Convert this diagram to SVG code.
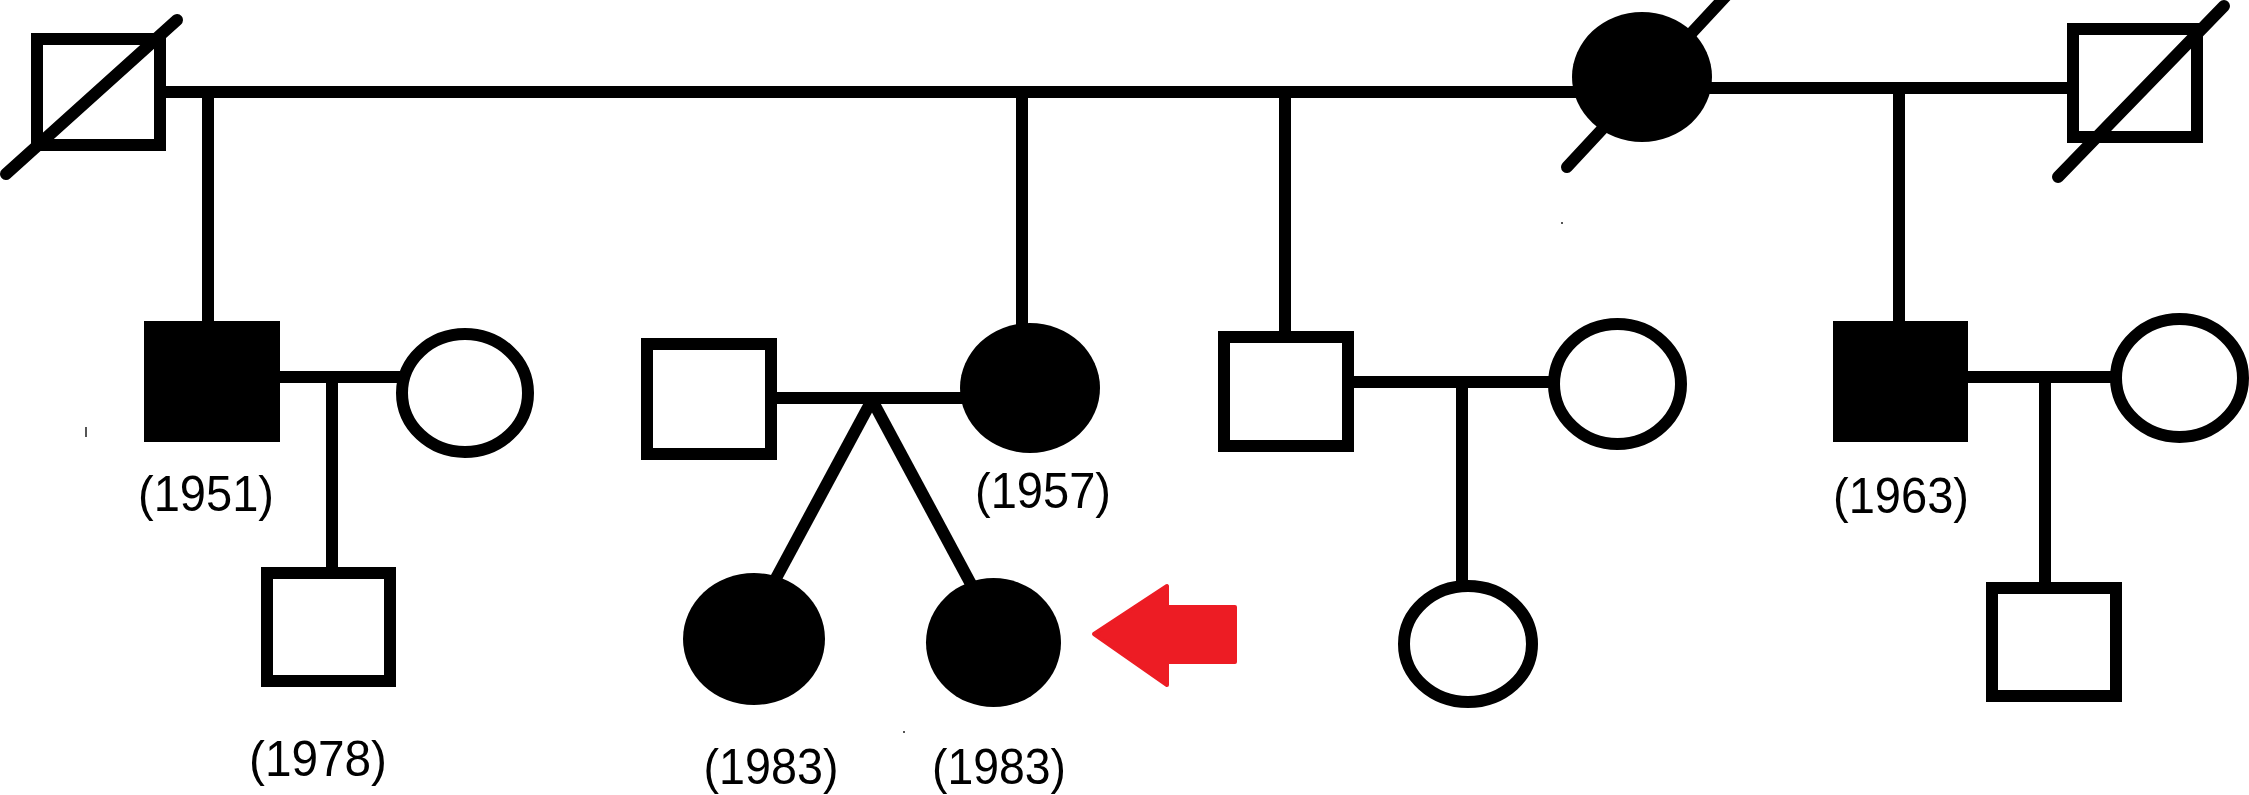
<svg xmlns="http://www.w3.org/2000/svg" width="2249" height="795" viewBox="0 0 2249 795">
  <style>
    .open { fill: #ffffff; stroke: #000000; stroke-width: 12; }
    .filled { fill: #000000; stroke: none; }
    .slash { stroke: #000000; stroke-width: 12; stroke-linecap: round; fill: none; }
    .link { stroke: #000000; stroke-width: 12; fill: none; }
    .label { font-family: "Liberation Sans", Arial, sans-serif; font-size: 50px; fill: #000000; text-anchor: middle; }
    .speck { fill: #555555; }
  </style>
  <rect x="0" y="0" width="2249" height="795" fill="#ffffff"/>

  <g id="connectors">
    <line class="link" x1="166" y1="92" x2="1600" y2="92"/>
    <line class="link" x1="1690" y1="88" x2="2067" y2="88"/>
    <line class="link" x1="208" y1="92" x2="208" y2="322"/>
    <line class="link" x1="1022" y1="92" x2="1022" y2="330"/>
    <line class="link" x1="1285" y1="92" x2="1285" y2="332"/>
    <line class="link" x1="1899" y1="88" x2="1899" y2="322"/>
    <line class="link" x1="280" y1="377" x2="400" y2="377"/>
    <line class="link" x1="332" y1="377" x2="332" y2="568"/>
    <line class="link" x1="777" y1="398" x2="965" y2="398"/>
    <line class="link" x1="872" y1="400" x2="774" y2="582"/>
    <line class="link" x1="872" y1="400" x2="972" y2="586"/>
    <line class="link" x1="1354" y1="382" x2="1550" y2="382"/>
    <line class="link" x1="1462" y1="382" x2="1462" y2="582"/>
    <line class="link" x1="1968" y1="377" x2="2112" y2="377"/>
    <line class="link" x1="2045" y1="377" x2="2045" y2="583"/>
  </g>

  <g id="gen1-male-left">
    <rect class="open" x="37" y="39" width="123" height="106"/>
    <line class="slash" x1="6" y1="174" x2="177" y2="20"/>
  </g>
  <g id="gen1-female">
    <ellipse class="filled" cx="1642" cy="77" rx="70" ry="65"/>
    <line class="slash" x1="1567" y1="167" x2="1726" y2="-4"/>
  </g>
  <g id="gen1-male-right">
    <rect class="open" x="2073" y="29" width="124" height="108"/>
    <line class="slash" x1="2058" y1="177" x2="2224" y2="6"/>
  </g>

  <g id="male-1951">
    <rect class="filled" x="144" y="321" width="136" height="121"/>
    <text class="label" x="206" y="511" textLength="136" lengthAdjust="spacingAndGlyphs">(1951)</text>
  </g>
  <g id="wife-1951">
    <ellipse class="open" cx="465" cy="393" rx="63" ry="59"/>
  </g>
  <g id="son-1978">
    <rect class="open" x="267" y="573" width="123" height="108"/>
    <text class="label" x="318" y="776" textLength="138" lengthAdjust="spacingAndGlyphs">(1978)</text>
  </g>

  <g id="husband-1957">
    <rect class="open" x="647" y="344" width="124" height="110"/>
  </g>
  <g id="female-1957">
    <ellipse class="filled" cx="1030" cy="388" rx="70" ry="65"/>
    <text class="label" x="1043" y="508" textLength="136" lengthAdjust="spacingAndGlyphs">(1957)</text>
  </g>
  <g id="twin-1983-left">
    <ellipse class="filled" cx="754" cy="639" rx="71" ry="66"/>
    <text class="label" x="771" y="784" textLength="135" lengthAdjust="spacingAndGlyphs">(1983)</text>
  </g>
  <g id="twin-1983-right">
    <ellipse class="filled" cx="993.5" cy="642.5" rx="67.5" ry="64.5"/>
    <text class="label" x="999" y="784" textLength="134" lengthAdjust="spacingAndGlyphs">(1983)</text>
  </g>
  <g id="proband-arrow">
    <polygon points="1094,634 1167,586 1167,607 1235,607 1235,662 1167,662 1167,685" fill="#ed1c24" stroke="#ed1c24" stroke-width="4" stroke-linejoin="round"/>
  </g>

  <g id="male-unaffected">
    <rect class="open" x="1224" y="337" width="124" height="109"/>
  </g>
  <g id="wife-unaffected">
    <ellipse class="open" cx="1617.5" cy="384" rx="63.5" ry="60"/>
  </g>
  <g id="daughter-unaffected">
    <ellipse class="open" cx="1468" cy="644" rx="64" ry="58"/>
  </g>

  <g id="male-1963">
    <rect class="filled" x="1833" y="321" width="135" height="121"/>
    <text class="label" x="1901" y="513" textLength="136" lengthAdjust="spacingAndGlyphs">(1963)</text>
  </g>
  <g id="wife-1963">
    <ellipse class="open" cx="2179.5" cy="378" rx="63.5" ry="59"/>
  </g>
  <g id="son-1963">
    <rect class="open" x="1992" y="588" width="124" height="108"/>
  </g>

  <rect class="speck" x="85" y="427" width="2" height="10"/>
  <rect class="speck" x="1561" y="222" width="2" height="2"/>
  <rect class="speck" x="903" y="731" width="2" height="2"/>
</svg>
